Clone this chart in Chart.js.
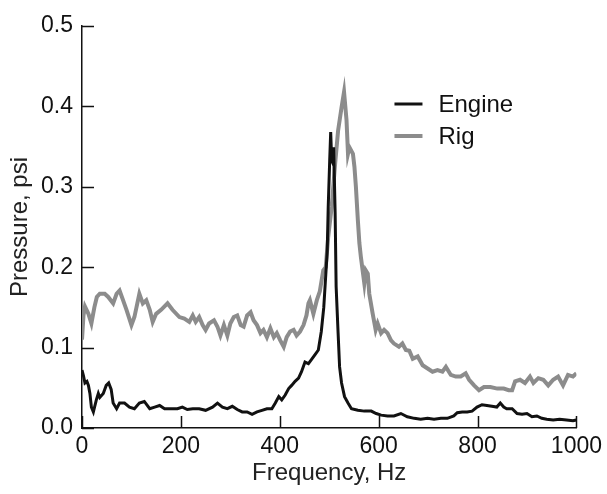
<!DOCTYPE html>
<html>
<head>
<meta charset="utf-8">
<script src="https://cdn.jsdelivr.net/npm/chart.js@4/dist/chart.umd.min.js"></script>
<style>
html,body{margin:0;padding:0;background:#fff;}
canvas{display:block;}
</style>
</head>
<body>
<canvas id="c" width="607" height="494"></canvas>
<script>
const seriesNames = ["Engine", "Rig"];
const xTicks = [0, 200, 400, 600, 800, 1000];
const yTicks = [0.0, 0.1, 0.2, 0.3, 0.4, 0.5];

const engineFreq = [0,3,6,10,13,16,19,23,29,33,36,43,49,54,59,63,70,76,86,96,106,116,126,137,147,157,167,180,193,203,213,224,237,250,264,274,284,294,304,314,324,334,344,354,364,374,384,391,398,404,411,418,424,431,438,444,451,458,464,471,478,484,489,493,496,498,501,503,505,507,509,512,514,518,521,525,531,538,545,558,571,585,595,605,618,631,645,658,672,685,699,712,726,739,752,759,769,779,789,799,809,819,829,839,846,853,859,870,880,890,900,910,920,930,940,953,966,980,993,1000];
const engineVal = [0.072,0.065,0.056,0.058,0.053,0.043,0.026,0.020,0.035,0.043,0.038,0.043,0.053,0.056,0.048,0.031,0.024,0.031,0.031,0.026,0.024,0.031,0.033,0.024,0.026,0.028,0.024,0.024,0.024,0.026,0.023,0.024,0.024,0.022,0.026,0.031,0.026,0.024,0.027,0.023,0.020,0.020,0.017,0.020,0.022,0.024,0.024,0.031,0.039,0.035,0.041,0.049,0.053,0.058,0.062,0.070,0.082,0.080,0.085,0.091,0.097,0.120,0.150,0.190,0.220,0.275,0.333,0.368,0.333,0.330,0.349,0.267,0.176,0.118,0.076,0.056,0.039,0.031,0.024,0.022,0.021,0.021,0.018,0.016,0.015,0.015,0.018,0.014,0.012,0.011,0.012,0.011,0.012,0.012,0.015,0.019,0.020,0.020,0.021,0.026,0.029,0.028,0.027,0.026,0.031,0.026,0.024,0.024,0.018,0.017,0.018,0.014,0.015,0.012,0.011,0.010,0.011,0.010,0.009,0.010];

const rigFreq = [0,3,6,13,19,25,30,36,46,53,63,70,76,83,90,100,106,116,123,130,137,143,150,160,173,183,197,207,217,224,230,237,244,250,257,267,274,280,287,294,300,307,314,321,327,334,341,347,354,361,367,374,381,388,394,401,408,414,421,428,434,441,448,454,458,461,468,475,481,488,493,498,505,512,518,525,530,535,538,541,548,551,554,558,561,564,571,574,578,581,588,594,598,605,611,618,625,631,641,648,655,662,669,679,689,699,709,719,729,736,746,756,766,776,783,793,803,813,826,840,853,863,870,876,886,896,906,913,923,933,943,953,963,973,983,993,1000];
const rigVal = [0.110,0.140,0.151,0.142,0.130,0.150,0.163,0.167,0.167,0.163,0.155,0.167,0.171,0.159,0.147,0.128,0.138,0.167,0.155,0.159,0.147,0.132,0.142,0.147,0.155,0.147,0.138,0.136,0.132,0.140,0.132,0.138,0.128,0.122,0.130,0.134,0.126,0.115,0.128,0.115,0.130,0.138,0.140,0.128,0.126,0.140,0.144,0.134,0.128,0.118,0.122,0.113,0.124,0.113,0.118,0.109,0.101,0.113,0.120,0.122,0.115,0.120,0.128,0.140,0.155,0.159,0.142,0.159,0.170,0.196,0.200,0.238,0.275,0.329,0.370,0.399,0.418,0.383,0.341,0.349,0.341,0.325,0.300,0.258,0.230,0.213,0.180,0.196,0.192,0.167,0.142,0.122,0.130,0.118,0.122,0.118,0.109,0.105,0.101,0.105,0.097,0.096,0.086,0.089,0.078,0.074,0.070,0.072,0.070,0.076,0.066,0.064,0.064,0.068,0.060,0.053,0.047,0.051,0.051,0.049,0.049,0.047,0.047,0.058,0.060,0.056,0.064,0.056,0.062,0.060,0.053,0.060,0.064,0.053,0.066,0.064,0.068];

const FONT = "'Liberation Sans', Arial, sans-serif";
const toXY = (xs, ys) => xs.map((x, i) => ({x: x, y: ys[i]}));

// inward ticks drawn from the scales themselves
const innerTicks = {
  id: 'innerTicks',
  afterDraw(chart) {
    const ctx = chart.ctx;
    const xs = chart.scales.x, ys = chart.scales.y;
    const a = chart.chartArea;
    ctx.save();
    ctx.strokeStyle = '#111';
    ctx.lineWidth = 1.5;
    ctx.beginPath();
    xs.ticks.forEach((t, i) => {
      const px = Math.round(xs.getPixelForTick(i)) + 0.5;
      ctx.moveTo(px, a.bottom);
      ctx.lineTo(px, a.bottom - 12);
    });
    ys.ticks.forEach((t, i) => {
      const py = Math.round(ys.getPixelForTick(i)) + 0.5;
      ctx.moveTo(a.left, py);
      ctx.lineTo(a.left + 12, py);
    });
    ctx.stroke();
    ctx.restore();
  }
};

const innerLegend = {
  id: 'innerLegend',
  afterDraw(chart) {
    const ctx = chart.ctx;
    const a = chart.chartArea;
    const x0 = a.left + (a.right - a.left) * 0.632;
    const y0 = a.top + 78;
    ctx.save();
    ctx.font = '24px ' + FONT;
    ctx.textBaseline = 'middle';
    chart.data.datasets.forEach((ds, i) => {
      const y = y0 + i * 32;
      ctx.strokeStyle = ds.borderColor;
      ctx.lineWidth = ds.borderWidth;
      ctx.beginPath();
      ctx.moveTo(x0, y);
      ctx.lineTo(x0 + 28, y);
      ctx.stroke();
      ctx.fillStyle = '#111';
      ctx.fillText(ds.label, x0 + 44, y + 1);
    });
    ctx.restore();
  }
};

const whiteBg = {
  id: 'whiteBg',
  beforeDraw(chart) {
    const ctx = chart.ctx;
    ctx.save();
    ctx.fillStyle = '#fff';
    ctx.fillRect(0, 0, chart.width, chart.height);
    ctx.restore();
  }
};

new Chart(document.getElementById('c'), {
  type: 'line',
  data: {
    datasets: [
      {label: seriesNames[0], data: toXY(engineFreq, engineVal), borderColor: '#111111', borderWidth: 3, pointRadius: 0, tension: 0, order: 0},
      {label: seriesNames[1], data: toXY(rigFreq, rigVal), borderColor: '#8c8c8c', borderWidth: 4, pointRadius: 0, tension: 0, order: 1}
    ]
  },
  options: {
    responsive: false,
    animation: false,
    layout: {padding: {left: 0, right: 27, top: 26, bottom: 0}},
    plugins: {legend: {display: false}, tooltip: {enabled: false}},
    scales: {
      x: {
        type: 'linear', min: 0, max: 1000,
        afterBuildTicks(s) { s.ticks = xTicks.map(v => ({value: v})); },
        afterFit(s) { s.height = 66; },
        grid: {drawOnChartArea: false, drawTicks: false},
        border: {display: true, color: '#111', width: 1.5},
        ticks: {color: '#111', font: {family: FONT, size: 23}, padding: 5, maxRotation: 0,
                callback: v => String(v)},
        title: {display: true, text: 'Frequency, Hz', color: '#222', font: {family: FONT, size: 24}, padding: {top: 2, bottom: 6}}
      },
      y: {
        type: 'linear', min: 0, max: 0.5,
        afterBuildTicks(s) { s.ticks = yTicks.map(v => ({value: v})); },
        afterFit(s) { s.width = 82; },
        grid: {drawOnChartArea: false, drawTicks: false},
        border: {display: true, color: '#111', width: 1.5},
        ticks: {color: '#111', font: {family: FONT, size: 23}, padding: 9,
                callback: v => Number(v).toFixed(1)},
        title: {display: true, text: 'Pressure, psi', color: '#222', font: {family: FONT, size: 24}, padding: {top: 6, bottom: 0}}
      }
    }
  },
  plugins: [whiteBg, innerTicks, innerLegend]
});
</script>
</body>
</html>
